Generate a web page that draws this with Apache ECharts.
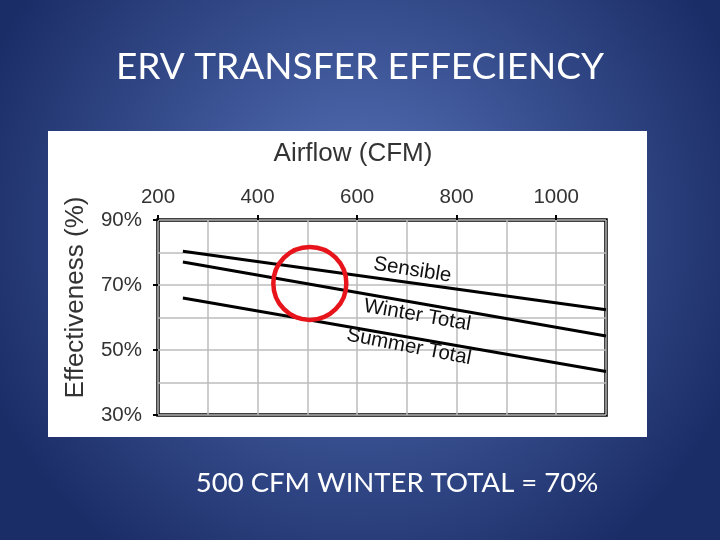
<!DOCTYPE html>
<html>
<head>
<meta charset="utf-8">
<script src="https://cdn.jsdelivr.net/npm/echarts@6/dist/echarts.min.js"></script>
<style>
	html,body{margin:0;padding:0;}
	#main{width:720px;height:540px;}
</style>
</head>
<body>
<div id="main"></div>
<script>
	// airflow (CFM) vs effectiveness (%)
	var sensible = [[250, 80.4], [1100, 62.4]];
	var winterTotal = [[250, 77.1], [1100, 54.3]];
	var summerTotal = [[250, 66.0], [1100, 43.4]];
	var xLabels = [200, 400, 600, 800, 1000];
	var yLabels = [30, 50, 70, 90];
	// where the curve names sit, and the circled point
	var sensibleTag = [711, 74.6];
	var winterTag = [721, 60.7];
	var summerTag = [704, 51.0];
	var circled = [505, 70.5];

	var axisFont = 'Liberation Sans';
	var txt = '#333333';

	function tag(name, pos, rot){
		return {
			silent: true,
			symbol: 'circle',
			symbolSize: 0,
			data: [{ coord: pos }],
			label: {
				show: true,
				position: 'inside',
				formatter: name,
				rotate: rot,
				color: '#111',
				fontFamily: axisFont,
				fontSize: 20.5
			}
		};
	}

	var chart = echarts.init(document.getElementById('main'));
	var option = {
		backgroundColor: {
			type: 'radial', x: 0.5, y: 0.42, r: 0.75,
			colorStops: [
				{ offset: 0, color: '#5673b9' },
				{ offset: 1, color: '#1b2d67' }
			]
		},
		animation: false,
		graphic: [
			{ type: 'rect', z: -10, shape: { x: 48, y: 131, width: 599, height: 306 }, style: { fill: '#ffffff' } },
			{ type: 'text', x: 360, y: 67, style: { text: 'ERV TRANSFER EFFECIENCY', fill: '#fff', font: '37px Lato', textAlign: 'center', textVerticalAlign: 'middle' } },
			{ type: 'text', x: 397, y: 483, style: { text: '500 CFM WINTER TOTAL = 70%', fill: '#fff', font: '27.5px Lato', textAlign: 'center', textVerticalAlign: 'middle' } }
		],
		grid: {
			left: 158, top: 220, right: 114, bottom: 125,
			show: true, borderColor: '#000', borderWidth: 3.5, backgroundColor: 'transparent'
		},
		xAxis: [
			{
				type: 'value', position: 'top', min: 200, max: 1100, interval: 100,
				axisLine: { show: false }, axisTick: { show: false }, axisLabel: { show: false },
				splitLine: { lineStyle: { color: '#bdbdbd', width: 1.5 } },
				name: 'Airflow (CFM)', nameLocation: 'middle', nameGap: 53,
				nameTextStyle: { color: txt, fontFamily: axisFont, fontSize: 26, padding: [0, 58, 0, 0] }
			},
			{
				type: 'value', position: 'top', min: 200, max: 1100,
				axisLine: { show: false },
				axisTick: { show: true, length: 5, customValues: xLabels, lineStyle: { color: '#000', width: 2 } },
				axisLabel: { customValues: xLabels, formatter: function (v) { return String(v); }, color: txt, fontFamily: axisFont, fontSize: 20.5, margin: 12 },
				splitLine: { show: false }
			}
		],
		yAxis: [
			{
				type: 'value', min: 30, max: 90, interval: 10,
				axisLine: { show: false }, axisTick: { show: false }, axisLabel: { show: false },
				splitLine: { lineStyle: { color: '#bdbdbd', width: 1.5 } },
				name: 'Effectiveness (%)', nameLocation: 'middle', nameGap: 69, nameRotate: 90,
				nameTextStyle: { color: txt, fontFamily: axisFont, fontSize: 26, padding: [0, 0, 0, 40] }
			},
			{
				type: 'value', position: 'left', min: 30, max: 90,
				axisLine: { show: false },
				axisTick: { show: true, length: 5, customValues: yLabels, lineStyle: { color: '#000', width: 2 } },
				axisLabel: { customValues: yLabels, formatter: '{value}%', color: txt, fontFamily: axisFont, fontSize: 20.5, margin: 16 },
				splitLine: { show: false }
			}
		],
		series: [
			{
				name: 'Sensible', type: 'line', data: sensible, symbol: 'none',
				lineStyle: { color: '#000', width: 3 },
				markPoint: tag('Sensible', sensibleTag, -9)
			},
			{
				name: 'Winter Total', type: 'line', data: winterTotal, symbol: 'none',
				lineStyle: { color: '#000', width: 3 },
				markPoint: tag('Winter Total', winterTag, -10)
			},
			{
				name: 'Summer Total', type: 'line', data: summerTotal, symbol: 'none',
				lineStyle: { color: '#000', width: 3 },
				markPoint: tag('Summer Total', summerTag, -11)
			},
			{
				name: 'circle', type: 'line', data: [], symbol: 'none',
				markPoint: {
					silent: true, symbol: 'circle', symbolSize: 73,
					data: [{ coord: circled }],
					itemStyle: { color: 'rgba(0,0,0,0)', borderColor: '#e8141b', borderWidth: 4.5 },
					label: { show: false }
				}
			}
		]
	};
	chart.setOption(option);
</script>
</body>
</html>
